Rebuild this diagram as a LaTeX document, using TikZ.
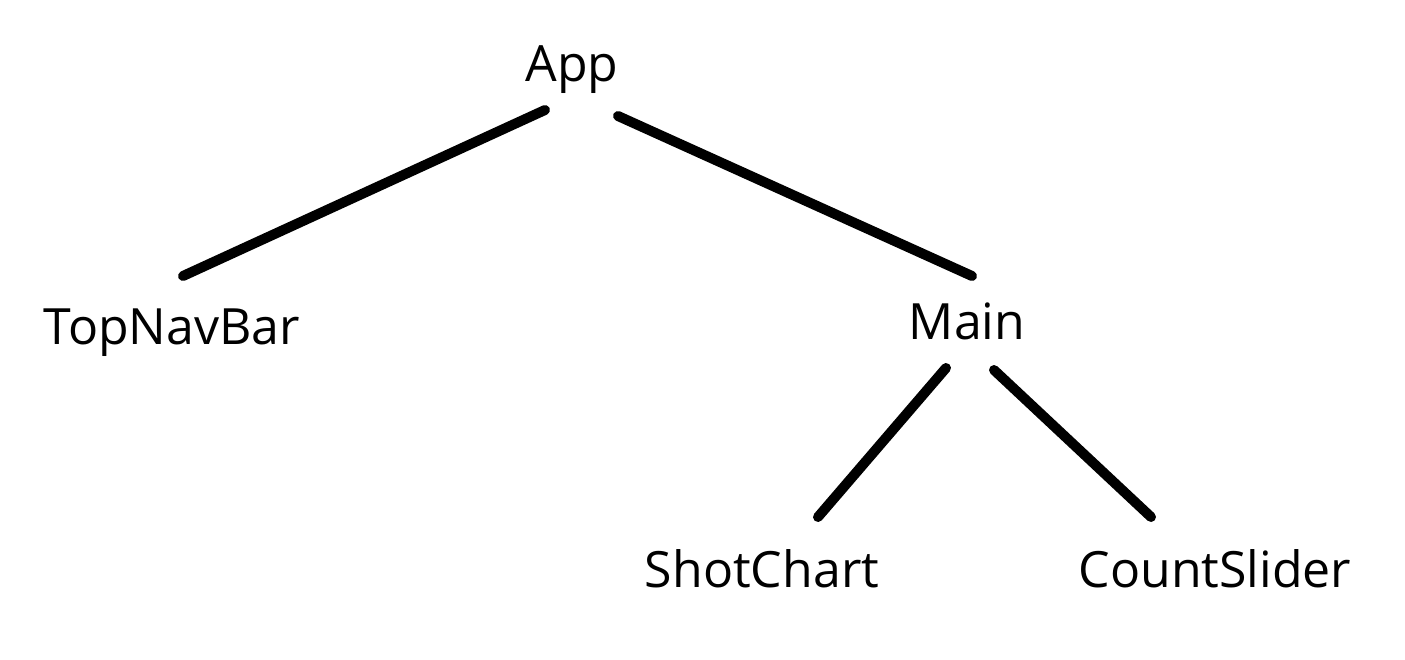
\documentclass[tikz,border=0pt]{standalone}
\usepackage{fontspec}
\setmainfont{Open Sans}
\usetikzlibrary{calc}

\begin{document}
\begin{tikzpicture}[x=1pt, y=-1pt,
        comp/.style = {anchor = base, inner sep = 0pt, font = \fontsize{50}{60}\selectfont},
        edge/.style = {line width = 10pt, line cap = round}]
        \useasboundingbox (0,0) rectangle (1405,660);

        % Draw components
        \node[comp] (app) at (572,82) {App};
        \node[comp] (topnav) at (172,344) {TopNavBar};
        \node[comp] (main) at (967,339) {Main};
        \node[comp] (shot) at (762,587) {ShotChart};
        \node[comp] (count) at (1215,587) {CountSlider};

        % Draw edges
        \draw[edge] ([shift={(-27,28)}]app.base) -- ([shift={(11,-68)}]topnav.base);
        \draw[edge] ([shift={(46,34)}]app.base) -- ([shift={(5,-63)}]main.base);
        \draw[edge] ([shift={(-21,29)}]main.base) -- ([shift={(56,-70)}]shot.base);
        \draw[edge] ([shift={(27,31)}]main.base) -- ([shift={(-64,-70)}]count.base);

    \end{tikzpicture}
\end{document}
